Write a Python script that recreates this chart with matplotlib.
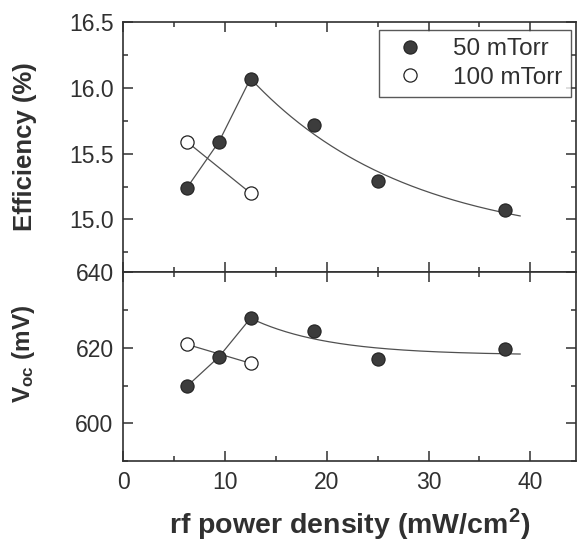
import matplotlib

matplotlib.use("Agg")
import matplotlib.pyplot as plt
import matplotlib.ticker as ticker
import numpy as np

# rf power density (mW/cm2)
power_50 = [6.25, 9.4, 12.5, 18.75, 25.0, 37.5]
power_100 = [6.25, 12.5]

# Efficiency (%)
eff_50 = [15.24, 15.59, 16.07, 15.72, 15.29, 15.07]
eff_100 = [15.59, 15.20]

# Open-circuit voltage (mV)
voc_50 = [609.8, 617.6, 627.8, 624.5, 617.0, 619.6]
voc_100 = [620.9, 615.9]

INK = "#303030"
LINE = "#505050"
FILL = "#3c3c3c"

plt.rcParams["font.family"] = ["Liberation Sans", "DejaVu Sans"]
plt.rcParams["mathtext.fontset"] = "custom"
plt.rcParams["mathtext.rm"] = "Liberation Sans"
plt.rcParams["mathtext.bf"] = "Liberation Sans:bold"
plt.rcParams["text.color"] = INK
plt.rcParams["axes.labelcolor"] = INK


def trend(x, y, x_end):
    """Exponential decay a + b*exp(-(x - x0)/c) fitted to the high-power points."""
    x = np.asarray(x)
    y = np.asarray(y)
    weights = np.ones_like(x)
    weights[0] = 10.0
    best = None
    for c in np.linspace(2.0, 30.0, 281):
        basis = np.column_stack([np.ones_like(x), np.exp(-(x - x[0]) / c)])
        coeffs, *_ = np.linalg.lstsq(basis * weights[:, None], y * weights,
                                     rcond=None)
        err = np.sum((weights * (basis @ coeffs - y)) ** 2)
        if best is None or err < best[0]:
            best = (err, c, coeffs)
    _, c, (a, b) = best
    xs = np.linspace(x[0], x_end, 200)
    return xs, a + b * np.exp(-(xs - x[0]) / c)


def style_axes(axes):
    for spine in axes.spines.values():
        spine.set_color(INK)
        spine.set_linewidth(1.2)
    axes.tick_params(which="both", direction="in", top=True, right=True,
                     colors=INK, labelsize=16.5, width=1.1, pad=7)
    axes.tick_params(which="major", length=7)
    axes.tick_params(which="minor", length=3.5)
    axes.xaxis.set_major_locator(ticker.MultipleLocator(10))
    axes.xaxis.set_minor_locator(ticker.MultipleLocator(5))


def draw_panel(axes, y_50, y_100):
    axes.plot(power_50[:3], y_50[:3], color=LINE, linewidth=0.9, zorder=2)
    xs, ys = trend(power_50[2:], y_50[2:], 39.0)
    axes.plot(xs, ys, color=LINE, linewidth=0.9, zorder=2)
    axes.plot(power_100, y_100, color=LINE, linewidth=0.9, zorder=2)
    axes.plot(power_50, y_50, linestyle="none", marker="o", markersize=9.5,
              markerfacecolor=FILL, markeredgecolor="#222222",
              markeredgewidth=0.8, label="50 mTorr", zorder=3)
    axes.plot(power_100, y_100, linestyle="none", marker="o", markersize=9.5,
              markerfacecolor="white", markeredgecolor="#222222",
              markeredgewidth=0.9, label="100 mTorr", zorder=3)


figure = plt.figure(figsize=(5.79, 5.42), dpi=100)
left, width = 0.213, 0.782
ax_eff = figure.add_axes([left, 0.498, width, 0.4615])
ax_voc = figure.add_axes([left, 0.149, width, 0.349], sharex=ax_eff)

draw_panel(ax_eff, eff_50, eff_100)
draw_panel(ax_voc, voc_50, voc_100)

for axes in (ax_eff, ax_voc):
    style_axes(axes)

ax_eff.set_xlim(0, 44.5)
ax_eff.set_ylim(14.6, 16.5)
ax_eff.yaxis.set_major_locator(ticker.MultipleLocator(0.5))
ax_eff.yaxis.set_minor_locator(ticker.MultipleLocator(0.25))
ax_eff.yaxis.set_major_formatter(ticker.FormatStrFormatter("%.1f"))
ax_eff.tick_params(labelbottom=False)
ax_eff.set_ylabel("Efficiency (%)", fontsize=18.5, fontweight="bold")
ax_eff.yaxis.set_label_coords(-0.19, 0.5)

ax_voc.set_ylim(590, 640)
ax_voc.yaxis.set_major_locator(ticker.MultipleLocator(20))
ax_voc.yaxis.set_minor_locator(ticker.MultipleLocator(10))
ax_voc.set_ylabel(r"$\mathbf{V_{oc}}$ (mV)", fontsize=17.5, fontweight="bold")
ax_voc.yaxis.set_label_coords(-0.19, 0.57)
ax_voc.set_xlabel(r"rf power density (mW/cm$^{\mathbf{2}}$)",
                  fontsize=20.5, fontweight="bold", labelpad=9)

legend = ax_eff.legend(loc="upper right", fontsize=17.5, frameon=True,
                       fancybox=False, handletextpad=0.8, borderpad=0.35,
                       labelspacing=0.25, handlelength=1.9, borderaxespad=0,
                       bbox_to_anchor=(0.988, 0.968))
legend.get_frame().set_edgecolor(INK)
legend.get_frame().set_linewidth(1.0)

figure.savefig("out.png", dpi=100)
plt.close()
